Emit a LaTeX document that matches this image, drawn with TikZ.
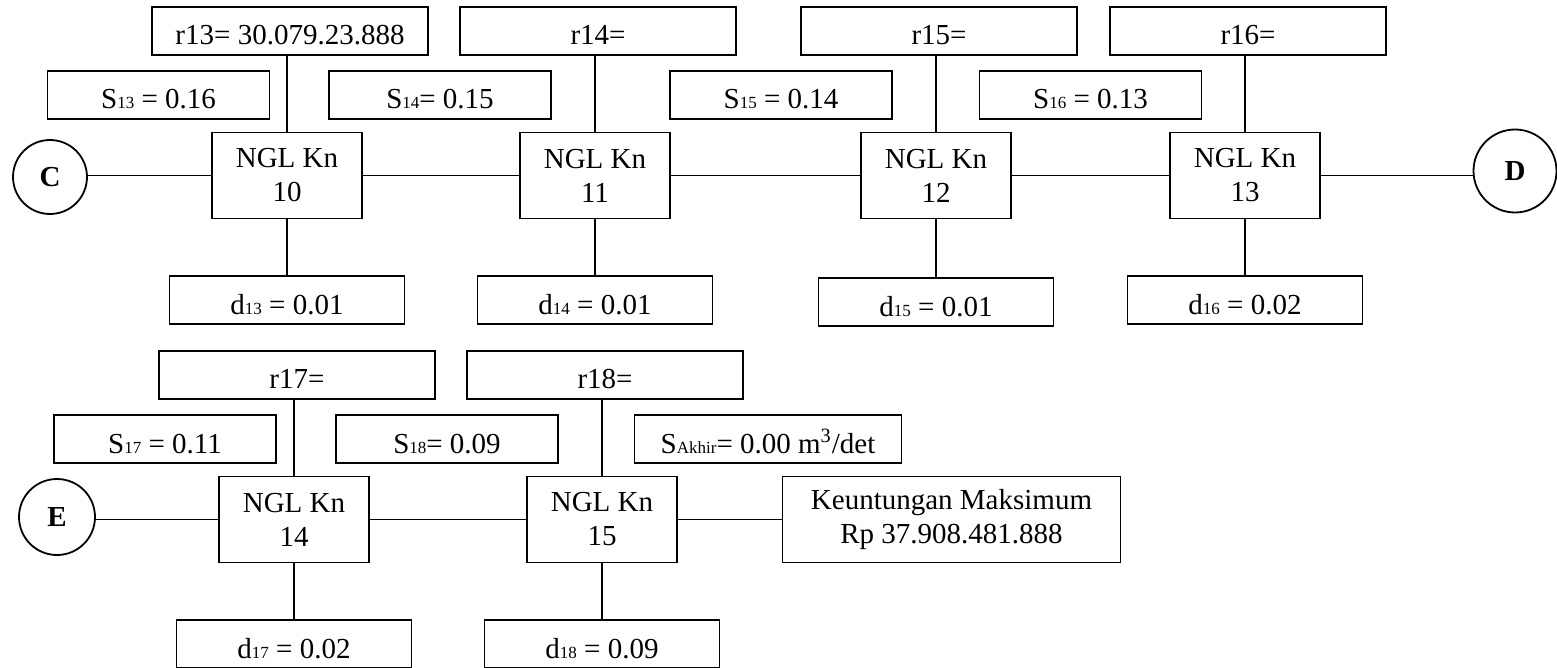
\documentclass[tikz,border=0pt]{standalone}
\usepackage{fontspec}
\setmainfont{Liberation Serif}
\usetikzlibrary{positioning}
\newcommand{\sub}[1]{{\fontsize{8.5}{8.5}\selectfont #1}}
\tikzset{
  box/.style={rectangle, draw=black, line width=0.9pt, align=center, inner sep=0pt,
              font=\fontsize{14.5}{17}\selectfont},
  knbox/.style={box, minimum width=75pt, minimum height=43pt},
  rbox/.style={box, minimum width=138pt, minimum height=24pt, text height=14pt, text depth=0pt},
  sbox/.style={rbox, minimum width=111pt},
  dbox/.style={rbox, minimum width=117.5pt},
  gainbox/.style={box, minimum width=169pt, minimum height=43pt},
  endpt/.style={circle, draw=black, line width=0.9pt, inner sep=0pt,
                font=\fontsize{14.5}{17}\selectfont\bfseries},
  link/.style={draw=black, line width=0.9pt}
}
\begin{document}
\begin{tikzpicture}[x=0.5pt, y=-0.5pt]
 \useasboundingbox (0,0) rectangle (1557,668);
 \node[knbox] (k10) at (287,175.5) {NGL Kn\\10};
 \node[knbox] (k11) at (595,175.5) {NGL Kn\\11};
 \node[knbox] (k12) at (936,175.5) {NGL Kn\\12};
 \node[knbox] (k13) at (1245,175.5) {NGL Kn\\13};
 \node[knbox] (k14) at (294,519.5) {NGL Kn\\14};
 \node[knbox] (k15) at (602,519.5) {NGL Kn\\15};
 \node[endpt, minimum size=37pt] (C) at (50,177) {C};
 \node[endpt, minimum size=41.5pt] (D) at (1515,171) {D};
 \node[endpt, minimum size=38pt] (E) at (57,517) {E};
 \node[gainbox] (gain) at (951.5,519.5) {Keuntungan Maksimum\\Rp 37.908.481.888};
 \node[rbox, above=38pt of k10, xshift=1.5pt] (r13) {r13= 30.079.23.888};
 \node[rbox, above=38pt of k11, xshift=1.5pt] (r14) {r14=};
 \node[rbox, above=38pt of k12, xshift=1.5pt] (r15) {r15=};
 \node[rbox, above=38pt of k13, xshift=1.5pt] (r16) {r16=};
 \node[rbox, above=38pt of k14, xshift=1.5pt] (r17) {r17=};
 \node[rbox, above=38pt of k15, xshift=1.5pt] (r18) {r18=};
 \node[sbox] (s13) at (158.5,95) {S\sub{13} = 0.16};
 \node[sbox] (s14) at (440,95) {S\sub{14}= 0.15};
 \node[sbox] (s15) at (781,95) {S\sub{15} = 0.14};
 \node[sbox] (s16) at (1090.5,95) {S\sub{16} = 0.13};
 \node[sbox] (s17) at (165,439) {S\sub{17} = 0.11};
 \node[sbox] (s18) at (447,439) {S\sub{18}= 0.09};
 \node[sbox, minimum width=133.5pt] (send) at (768,439) {S\sub{Akhir}= 0.00 m\textsuperscript{3}/det};
 \node[dbox, below=28pt of k10] (d13) {d\sub{13} = 0.01};
 \node[dbox, below=28pt of k11] (d14) {d\sub{14} = 0.01};
 \node[dbox, below=29pt of k12] (d15) {d\sub{15} = 0.01};
 \node[dbox, below=28pt of k13] (d16) {d\sub{16} = 0.02};
 \node[dbox, below=28pt of k14] (d17) {d\sub{17} = 0.02};
 \node[dbox, below=28pt of k15] (d18) {d\sub{18} = 0.09};
 \draw[link] (k10.west -| C.east) -- (k10) -- (k11) -- (k12) -- (k13) -- (k13.east -| D.west);
 \draw[link] (k14.west -| E.east) -- (k14) -- (k15) -- (gain);
 \draw[link] (r13.south -| k10) -- (k10.north) (k10.south) -- (d13.north -| k10);
 \draw[link] (r14.south -| k11) -- (k11.north) (k11.south) -- (d14.north -| k11);
 \draw[link] (r15.south -| k12) -- (k12.north) (k12.south) -- (d15.north -| k12);
 \draw[link] (r16.south -| k13) -- (k13.north) (k13.south) -- (d16.north -| k13);
 \draw[link] (r17.south -| k14) -- (k14.north) (k14.south) -- (d17.north -| k14);
 \draw[link] (r18.south -| k15) -- (k15.north) (k15.south) -- (d18.north -| k15);
\end{tikzpicture}
\end{document}
